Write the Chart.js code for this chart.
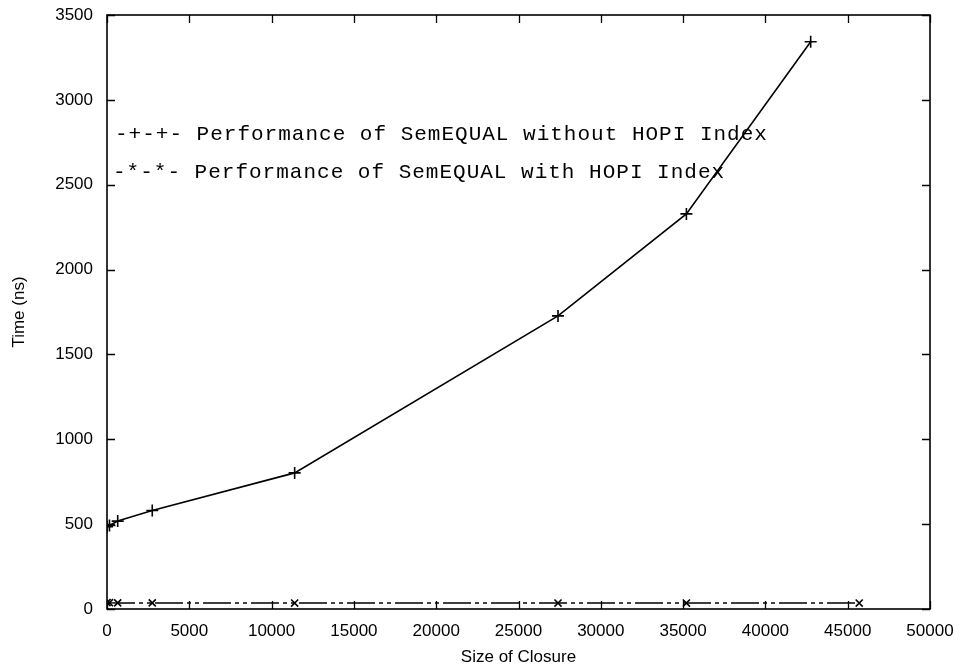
<!DOCTYPE html>
<html>
<head>
<meta charset="utf-8">
<script src="https://cdn.jsdelivr.net/npm/chart.js@4/dist/chart.umd.min.js"></script>
<style>
  html, body { margin: 0; padding: 0; background: #fff; }
  #wrap { width: 961px; height: 668px; }
</style>
</head>
<body>
<div id="wrap"><canvas id="chart" width="961" height="668"></canvas></div>
<script>
// === SemEQUAL closure timing ===

const closureSizes  = [0, 150, 650, 2750, 11400, 27400, 35200, 42750];
const timeNoIndex   = [485, 492, 518, 580, 802, 1727, 2328, 3342];
const hopiSizes     = [0, 150, 650, 2750, 11400, 27400, 35200, 45700];
const timeWithIndex = [38, 37, 36, 36, 35, 35, 35, 35];

const legendLines = [
  "-+-+- Performance of SemEQUAL without HOPI Index",
  "-*-*- Performance of SemEQUAL with HOPI Index",
];

const xTicks = [0, 5000, 10000, 15000, 20000, 25000, 30000, 35000, 40000, 45000, 50000];
const yTicks = [0, 500, 1000, 1500, 2000, 2500, 3000, 3500];

const toPoints = (xs, ys) => xs.map((x, i) => ({ x, y: ys[i] }));

const axisFont = { family: "'Liberation Sans', Arial, sans-serif", size: 17 };

// gnuplot style frame: box + inward ticks on all four sides
const framePlugin = {
  id: "frame",
  afterDatasetsDraw(chart) {
    const { ctx, chartArea: a, scales } = chart;
    ctx.save();
    ctx.strokeStyle = "#000";
    ctx.lineWidth = 1.6;
    ctx.strokeRect(a.left, a.top, a.right - a.left, a.bottom - a.top);
    ctx.lineWidth = 1.3;
    const len = 8;
    ctx.beginPath();
    xTicks.forEach((v) => {
      const px = Math.round(scales.x.getPixelForValue(v)) + 0.5;
      ctx.moveTo(px, a.bottom); ctx.lineTo(px, a.bottom - len);
      ctx.moveTo(px, a.top);    ctx.lineTo(px, a.top + len);
    });
    yTicks.forEach((v) => {
      const py = Math.round(scales.y.getPixelForValue(v)) + 0.5;
      ctx.moveTo(a.left, py);  ctx.lineTo(a.left + len, py);
      ctx.moveTo(a.right, py); ctx.lineTo(a.right - len, py);
    });
    ctx.stroke();

    // text legend inside the plot
    ctx.fillStyle = "#000";
    ctx.font = "21px 'Liberation Mono', 'DejaVu Sans Mono', monospace";
    ctx.letterSpacing = "1px";
    ctx.textBaseline = "alphabetic";
    ctx.fillText(legendLines[0], a.left + 8, 140);
    ctx.fillText(legendLines[1], a.left + 6, 178);
    ctx.restore();
  },
};

const ctx = document.getElementById("chart").getContext("2d");

new Chart(ctx, {
  type: "scatter",
  data: {
    datasets: [
      {
        label: "without HOPI",
        data: toPoints(closureSizes, timeNoIndex),
        showLine: true,
        borderColor: "#000",
        backgroundColor: "#000",
        borderWidth: 1.6,
        pointStyle: "cross",
        pointRadius: 6,
        pointBorderWidth: 1.6,
        tension: 0,
      },
      {
        label: "with HOPI",
        data: toPoints(hopiSizes, timeWithIndex),
        showLine: true,
        borderColor: "#000",
        backgroundColor: "#000",
        borderWidth: 1.5,
        borderDash: [28, 4, 4, 4, 4, 4],
        pointStyle: "crossRot",
        pointRadius: 5,
        pointBorderWidth: 1.6,
        tension: 0,
      },
    ],
  },
  options: {
    responsive: false,
    animation: false,
    layout: { padding: { left: 0, top: 15, right: 31, bottom: 0 } },
    plugins: {
      legend: { display: false },
      tooltip: { enabled: false },
    },
    scales: {
      x: {
        type: "linear",
        min: 0,
        max: 50000,
        afterBuildTicks: (scale) => { scale.ticks = xTicks.map((v) => ({ value: v })); },
        afterFit: (scale) => {
          scale.height = 59;
          scale.paddingLeft = 0;
          scale.paddingRight = 0;
        },
        ticks: { color: "#000", font: axisFont, padding: 12, maxRotation: 0, callback: (v) => String(v) },
        grid: { display: false, drawTicks: false },
        border: { display: false },
        title: { display: true, text: "Size of Closure", color: "#000", font: axisFont, padding: { top: 2, bottom: 0 } },
      },
      y: {
        type: "linear",
        min: 0,
        max: 3500,
        afterBuildTicks: (scale) => { scale.ticks = yTicks.map((v) => ({ value: v })); },
        afterFit: (scale) => {
          scale.width = 107;
          scale.paddingTop = 0;
          scale.paddingBottom = 0;
        },
        ticks: { color: "#000", font: axisFont, padding: 14, callback: (v) => String(v) },
        grid: { display: false, drawTicks: false },
        border: { display: false },
        title: { display: true, text: "Time (ns)", color: "#000", font: axisFont, padding: { top: 9, bottom: 0 } },
      },
    },
  },
  plugins: [framePlugin],
});
</script>
</body>
</html>
